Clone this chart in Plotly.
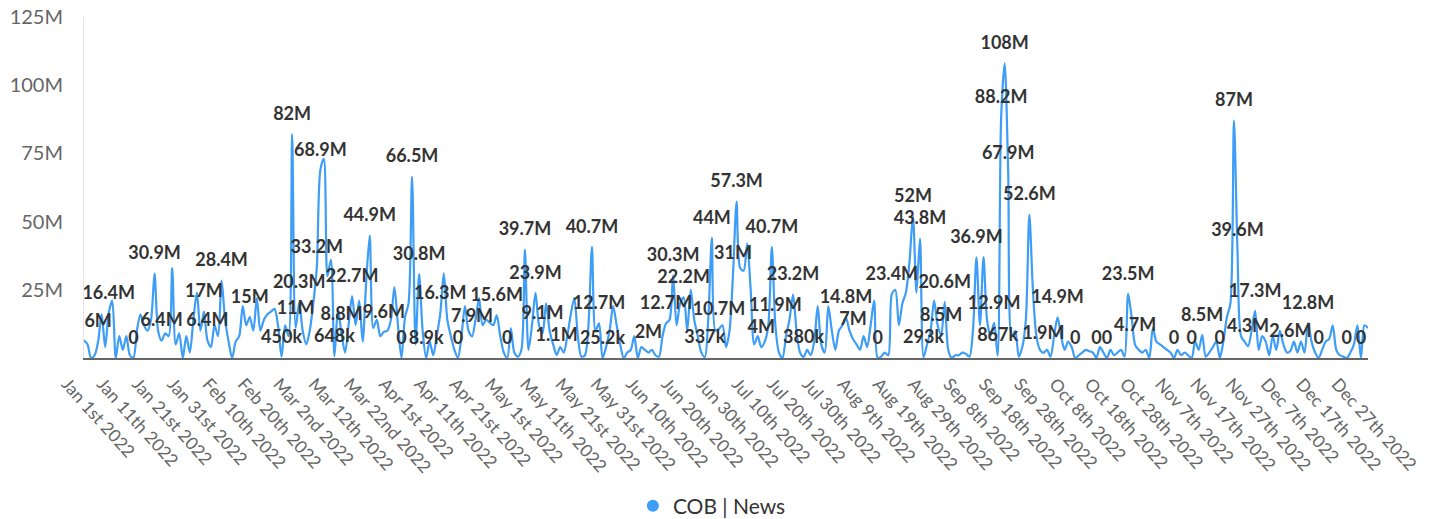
import pandas as pd
import plotly.graph_objects as go

# Daily values for 2022 (millions)
VALUES_M = [
    6.5, 5, 0, 1, 6, 16, 4, 16.4, 21, 0,
    8, 3, 8, 1, 0, 10, 16, 12, 10, 14,
    30.9, 10, 6.4, 9, 8, 33, 5, 9, 0, 8,
    2, 14, 24, 10, 17, 6.4, 4, 12, 8, 28.4,
    14, 6, 0, 6, 8, 19, 12, 15, 10, 22,
    10, 14, 16, 17, 18, 12, 0.45, 12, 8, 82,
    11, 20.3, 10, 5, 10, 20, 33.2, 68.9, 73, 30,
    36, 0.648, 18, 8.8, 2, 12, 22.7, 12, 21, 6,
    28, 44.9, 11, 14, 8, 9.6, 10, 14, 26, 12,
    0, 15, 20, 66.5, 5, 30.8, 10, 0.0089, 6, 1,
    8, 16.3, 31, 14, 8, 3, 0, 8, 19, 10,
    7.9, 14, 22, 12, 14, 13, 12, 15.6, 8, 2,
    0, 11, 2, 0.5, 3, 39.7, 3, 12, 23.9, 12,
    9.1, 20, 10, 5, 1.1, 4, 2, 8, 16, 22,
    8, 0.5, 1, 12, 40.7, 10, 12.7, 0.0252, 4, 10,
    19, 12, 5, 0, 2, 3, 8, 0, 4, 3,
    2, 3, 1, 0.5, 8, 12.7, 14, 30.3, 12, 20,
    22.2, 10, 25, 14, 8, 2, 0.337, 15, 44, 10,
    10.7, 12, 4, 10, 31, 57.3, 33, 32, 42, 25,
    5, 8, 4, 6, 12, 40.7, 11.9, 2, 0, 8,
    14, 23.2, 10, 2, 0.38, 3, 1, 6, 19, 5,
    2, 19, 10, 3, 10, 12, 14.8, 10, 7, 5,
    3, 8, 4, 12, 21, 0, 0.5, 2, 1, 23.4,
    25, 12, 20, 24, 35, 52, 24, 43.8, 0.293, 5,
    10, 21, 12, 8.5, 20.6, 3, 0, 1, 1, 2,
    1.5, 0.5, 10, 36.9, 12, 37, 14, 8, 12.9, 0.867,
    88.2, 108, 67.9, 8, 10, 0.5, 4, 14, 52.6, 25,
    8, 3, 1.9, 3, 0.5, 8, 14.9, 8, 3, 6,
    4, 0, 1, 2, 3, 2.5, 2, 0, 4, 2,
    0, 3, 1, 2, 3, 0.5, 23.5, 15, 4.7, 3,
    2, 3, 0, 11, 6, 5, 4, 3, 2, 0,
    3, 1, 2, 1, 0, 6, 3, 8.5, 0.5, 2,
    4, 6, 0, 6, 15, 20, 87, 39.6, 8, 6,
    4.3, 10, 17.3, 3, 8, 6, 1, 8, 3, 10,
    5, 2, 2.6, 6, 2, 6, 2, 12.8, 6, 2,
    0, 3, 6, 7, 12, 3, 1, 0.5, 0, 2,
    5, 12, 0, 12, 11,
]

# Days (index from Jan 1st) whose value label is shown
LABEL_DAYS = [4, 7, 14, 20, 22, 34, 35, 39, 47, 56, 59, 60, 61, 66, 67, 71, 73, 76,
              81, 85, 90, 93, 95, 97, 101, 106, 110, 117, 120, 125, 128, 130, 134,
              144, 146, 147, 160, 165, 167, 170, 176, 178, 180, 184, 185, 192, 195,
              196, 201, 204, 216, 218, 225, 229, 235, 237, 238, 243, 244, 253, 258,
              259, 260, 261, 262, 268, 272, 276, 281, 287, 290, 296, 298, 309, 314,
              317, 322, 326, 327, 330, 332, 342, 347, 350, 358, 362]

TICK_LABELS = [
    "Jan 1st 2022", "Jan 11th 2022", "Jan 21st 2022", "Jan 31st 2022", "Feb 10th 2022",
    "Feb 20th 2022", "Mar 2nd 2022", "Mar 12th 2022", "Mar 22nd 2022", "Apr 1st 2022",
    "Apr 11th 2022", "Apr 21st 2022", "May 1st 2022", "May 11th 2022", "May 21st 2022",
    "May 31st 2022", "Jun 10th 2022", "Jun 20th 2022", "Jun 30th 2022", "Jul 10th 2022",
    "Jul 20th 2022", "Jul 30th 2022", "Aug 9th 2022", "Aug 19th 2022", "Aug 29th 2022",
    "Sep 8th 2022", "Sep 18th 2022", "Sep 28th 2022", "Oct 8th 2022", "Oct 18th 2022",
    "Oct 28th 2022", "Nov 7th 2022", "Nov 17th 2022", "Nov 27th 2022", "Dec 7th 2022",
    "Dec 17th 2022", "Dec 27th 2022",
]

Y_TICKS = [25e6, 50e6, 75e6, 100e6, 125e6]
Y_TICK_LABELS = ["25M", "50M", "75M", "100M", "125M"]

SERIES_NAME = "COB | News"
BLUE = "#3d9df7"

dates = pd.date_range("2022-01-01", periods=len(VALUES_M), freq="D")
values = [v * 1e6 for v in VALUES_M]


def fmt(v):
    if v >= 1e6:
        s = f"{v / 1e6:.1f}".rstrip("0").rstrip(".")
        return s + "M"
    if v >= 1e3:
        s = f"{v / 1e3:.1f}".rstrip("0").rstrip(".")
        return s + "k"
    return "0"


label_set = set(LABEL_DAYS)
texts = [fmt(values[i]) if i in label_set else "" for i in range(len(values))]
tickvals = [dates[i] for i in range(0, len(dates), 10)][:len(TICK_LABELS)]

fig = go.Figure()
fig.add_trace(go.Scatter(
    x=dates, y=values, mode="lines+markers+text", text=texts,
    textposition="top center",
    textfont=dict(family="Lato", size=18, color="#333333", weight="bold"),
    line=dict(color=BLUE, width=2.2, shape="spline", smoothing=0.8),
    marker=dict(size=14, color="rgba(0,0,0,0)"),
    cliponaxis=False, showlegend=False, name=SERIES_NAME,
))
fig.add_trace(go.Scatter(
    x=[None], y=[None], mode="markers", name=SERIES_NAME,
    marker=dict(symbol="circle", size=16, color=BLUE),
))

fig.update_layout(
    width=1437, height=519,
    margin=dict(l=84, r=69, t=17, b=161, autoexpand=False),
    paper_bgcolor="white", plot_bgcolor="white",
    font=dict(family="Lato", color="#333333"),
    showlegend=True,
    legend=dict(orientation="h", x=0.489, xanchor="center", y=-0.434, yanchor="middle",
                font=dict(family="Lato", size=21, color="#333333"),
                itemsizing="constant"),
    xaxis=dict(
        type="date", range=[dates[0], dates[-1]], automargin=False,
        tickvals=tickvals, ticktext=TICK_LABELS, tickangle=48,
        tickfont=dict(family="Lato", size=17.5, color="#666666"),
        showgrid=False, zeroline=False,
        showline=True, linecolor="#666666", linewidth=2,
        ticks="", ticklabelstandoff=7, ticklabelshift=-17,
    ),
    yaxis=dict(
        range=[0, 125e6], tickvals=Y_TICKS, ticktext=Y_TICK_LABELS, automargin=False,
        tickfont=dict(family="Lato", size=20, color="#666666"),
        showgrid=False, zeroline=False,
        showline=True, linecolor="#e6e6e6", linewidth=1,
        ticks="", ticklabelstandoff=16,
    ),
)

fig.write_html("out.html", config={"displayModeBar": False},
               post_script="document.body.style.margin='0';")
